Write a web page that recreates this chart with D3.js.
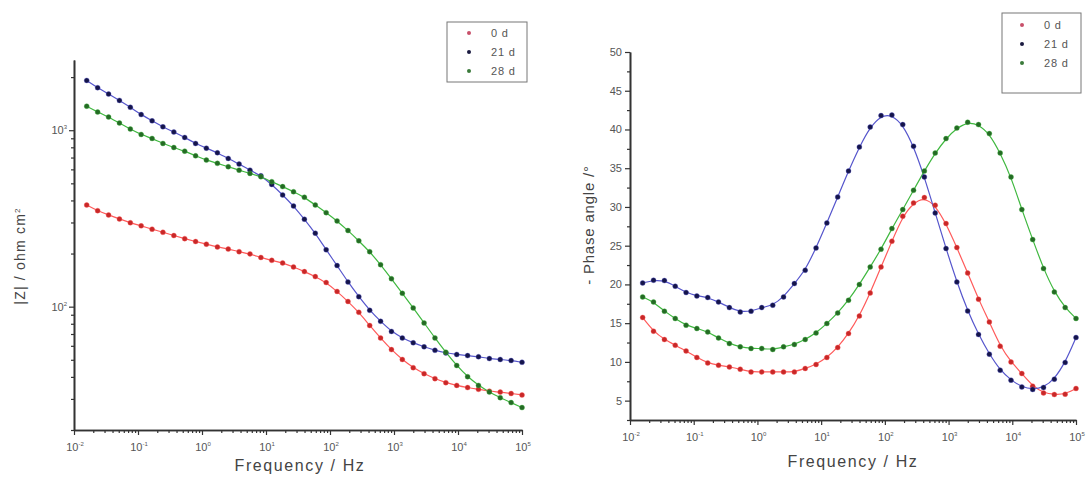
<!DOCTYPE html>
<html><head><meta charset="utf-8">
<script src="https://cdn.jsdelivr.net/npm/d3@7"></script>
<style>
html,body{margin:0;padding:0;background:#fff;}
svg{display:block;font-family:"Liberation Sans",Arial,sans-serif;}
</style></head>
<body><svg id="c" width="1087" height="488"></svg>
<script>
// Frequencies (Hz)
const freq = [0.0158,0.0234,0.0347,0.0513,0.0759,0.112,0.166,0.245,0.363,0.537,0.794,1.17,1.74,2.57,3.80,5.62,8.32,12.3,18.2,26.9,39.8,58.9,87.1,129,191,282,417,617,912,1349,1995,2951,4365,6457,9550,14125,20893,30903,45709,67608,100000];
const seriesNames = ["0 d","21 d","28 d"];
// |Z| (ohm cm2)
const zMod0  = [377,350,331,314,299,287,275,264,253,243,234,226,218,212,205,199,190,183,177,168,158,148,137,122,107,92.9,78.2,66.5,57.1,50.2,45.1,41.7,39.1,37.1,35.8,34.8,34.0,33.2,32.8,32.2,31.6];
const zMod21 = [1914,1742,1603,1476,1349,1227,1130,1045,977,910,841,791,745,692,643,594,552,493,430,372,313,261,210,171,138,114,95.3,82.6,72.4,66.5,62.4,59.2,56.6,54.7,53.6,52.8,52.0,50.8,50.2,49.5,48.4];
const zMod28 = [1368,1268,1188,1099,1016,946,898,841,798,761,716,677,649,621,594,569,545,511,479,448,417,377,341,306,270,236,205,173,144,119,98.4,80.9,66.5,55.2,46.4,40.1,35.8,32.8,30.5,28.6,26.8];
// -Phase angle (deg)
const phase0  = [15.73,13.96,12.89,12.15,11.42,10.57,9.87,9.57,9.35,9.06,8.71,8.71,8.71,8.71,8.71,9.15,9.66,10.57,11.86,13.66,15.94,18.90,22.26,25.57,28.8,30.52,31.21,30.22,27.86,24.76,21.48,18.09,15.16,12.03,10.0,8.5,6.87,6.0,5.79,5.83,6.57];
const phase21 = [20.19,20.54,20.5,19.77,18.95,18.52,18.31,17.74,17.01,16.45,16.54,17.01,17.32,18.39,20.11,21.83,24.71,27.94,31.29,34.65,37.74,40.32,41.79,41.87,40.63,37.83,33.87,29.23,24.63,20.32,16.58,13.54,11.0,8.93,7.64,6.77,6.44,6.70,7.77,9.92,13.15];
const phase28 = [18.39,17.74,16.54,15.6,14.74,14.31,13.87,13.10,12.37,11.94,11.73,11.73,11.6,11.94,12.25,12.89,13.74,14.95,16.32,17.96,19.99,22.26,24.54,27.21,29.66,32.15,34.65,36.97,38.82,40.19,40.93,40.63,39.47,36.97,33.87,29.66,25.79,22.05,19.03,17.01,15.6];
const xExponents = [-2,-1,0,1,2,3,4,5];
const zExponents = [2,3];
const phaseTicks = [5,10,15,20,25,30,35,40,45,50];

const lineColors = ["#ff5a5a","#5555cc","#3fb83f"];
const dotColors  = ["#c82828","#15154a","#256a25"];
const legendDot  = ["#c8506a","#1a1a40","#3a7a3a"];

const svg = d3.select("#c");
const axisColor = "#333";
const labColor = "#555";

function minorLog(lo, hi){
  const out=[];
  for(let e=Math.floor(Math.log10(lo)); e<=Math.ceil(Math.log10(hi)); e++){
    for(let m=2;m<=9;m++){const v=m*Math.pow(10,e); if(v>=lo&&v<=hi) out.push(v);}
  }
  return out;
}
function styleAxis(g){
  g.select(".domain").attr("stroke",axisColor).attr("stroke-width",1.6);
  g.selectAll(".tick line").attr("stroke",axisColor).attr("stroke-width",1.2);
  g.selectAll(".tick text").remove();
}
function powLabel(g, x, y, exp, anchor){
  const t = g.append("text").attr("x",x).attr("y",y).attr("fill",labColor)
    .attr("font-size",11).attr("text-anchor",anchor||"middle");
  t.append("tspan").text("10");
  t.append("tspan").attr("dy",-5).attr("font-size",6).text(exp);
}

function drawPanel(opt){
  const x = d3.scaleLog().domain([0.01,1e5]).range(opt.xr);
  const y = opt.y;
  const g = svg.append("g");
  const gx = g.append("g").attr("transform",`translate(0,${opt.yb})`)
    .call(d3.axisBottom(x).tickValues(xExponents.map(e=>Math.pow(10,e))).tickSize(5).tickSizeOuter(0));
  styleAxis(gx);
  const gxm = g.append("g").attr("transform",`translate(0,${opt.yb})`)
    .call(d3.axisBottom(x).tickValues(minorLog(0.01,1e5)).tickSize(3).tickSizeOuter(0));
  styleAxis(gxm);
  xExponents.forEach(e=>powLabel(g, x(Math.pow(10,e))+1, opt.yb+21, e<0? "-"+(-e): String(e)));
  const gy = g.append("g").attr("transform",`translate(${opt.xr[0]},0)`)
    .call(opt.yAxisMajor(d3.axisLeft(y)).tickSize(5).tickSizeOuter(0));
  styleAxis(gy);
  const gym = g.append("g").attr("transform",`translate(${opt.xr[0]},0)`)
    .call(d3.axisLeft(y).tickValues(opt.yMinor).tickSize(3).tickSizeOuter(0));
  styleAxis(gym);
  opt.yLabels(g, x, y);
  opt.series.forEach((vals,i)=>{
    const pts = freq.map((f,j)=>[f,vals[j]]);
    g.append("path").datum(pts)
      .attr("d", d3.line().x(d=>x(d[0])).y(d=>y(d[1])).curve(d3.curveBasis))
      .attr("fill","none").attr("stroke",lineColors[i]).attr("stroke-width",1.2);
  });
  opt.series.forEach((vals,i)=>{
    g.append("g").selectAll("circle").data(freq.map((f,j)=>[f,vals[j]])).join("circle")
      .attr("cx",d=>x(d[0])).attr("cy",d=>y(d[1])).attr("r",2.5)
      .attr("fill",dotColors[i]).attr("stroke",lineColors[i]).attr("stroke-width",0.6).attr("stroke-opacity",0.6);
  });
  g.append("text").attr("x",opt.xTitle[0]).attr("y",opt.xTitle[1]).attr("text-anchor","middle")
    .attr("font-size",16).attr("letter-spacing",1.6).attr("fill","#444").text("Frequency / Hz");
  const L = opt.legend;
  g.append("rect").attr("x",L.x).attr("y",L.y).attr("width",L.w).attr("height",L.h)
    .attr("fill","#fff").attr("stroke","#777").attr("stroke-width",1);
  seriesNames.forEach((n,i)=>{
    g.append("circle").attr("cx",L.mx).attr("cy",L.rows[i]).attr("r",2).attr("fill",legendDot[i]);
    g.append("text").attr("x",L.tx).attr("y",L.rows[i]+4).attr("font-size",11).attr("letter-spacing",0.8)
      .attr("fill","#555").text(n);
  });
  return g;
}

const yZ = d3.scaleLog().domain([20,2500]).range([430,60]);
const gL = drawPanel({
  xr:[74,522], yb:430, y:yZ,
  yAxisMajor: a=>a.tickValues(zExponents.map(e=>Math.pow(10,e))),
  yMinor: minorLog(20,2500),
  yLabels:(g,x,y)=>zExponents.forEach(e=>powLabel(g,67,y(Math.pow(10,e))+4,String(e),"end")),
  series:[zMod0,zMod21,zMod28],
  xTitle:[300,471],
  legend:{x:447,y:22,w:80,h:60,mx:469,tx:491,rows:[33,52,71]}
});
const tz = gL.append("text").attr("transform","translate(25,256) rotate(-90)").attr("text-anchor","middle")
  .attr("font-size",14).attr("letter-spacing",1.2).attr("fill","#444");
tz.append("tspan").text("|Z| / ohm cm");
tz.append("tspan").attr("dy",-5).attr("font-size",8).text("2");

const yP = d3.scaleLinear().domain([2.5,50]).range([420,52]);
const gR = drawPanel({
  xr:[630,1076], yb:420, y:yP,
  yAxisMajor: a=>a.tickValues(phaseTicks),
  yMinor: [2.5,7.5,12.5,17.5,22.5,27.5,32.5,37.5,42.5,47.5],
  yLabels:(g,x,y)=>phaseTicks.forEach(v=>g.append("text").attr("x",622).attr("y",y(v)+4)
      .attr("text-anchor","end").attr("font-size",11).attr("fill",labColor).text(v)),
  series:[phase0,phase21,phase28],
  xTitle:[853,467],
  legend:{x:1002,y:13,w:79,h:80,mx:1022,tx:1044,rows:[25,44,63]}
});
gR.append("text").attr("transform","translate(594,225) rotate(-90)").attr("text-anchor","middle")
  .attr("font-size",15).attr("letter-spacing",0.8).attr("fill","#444").text("- Phase angle /°");
</script></body></html>
